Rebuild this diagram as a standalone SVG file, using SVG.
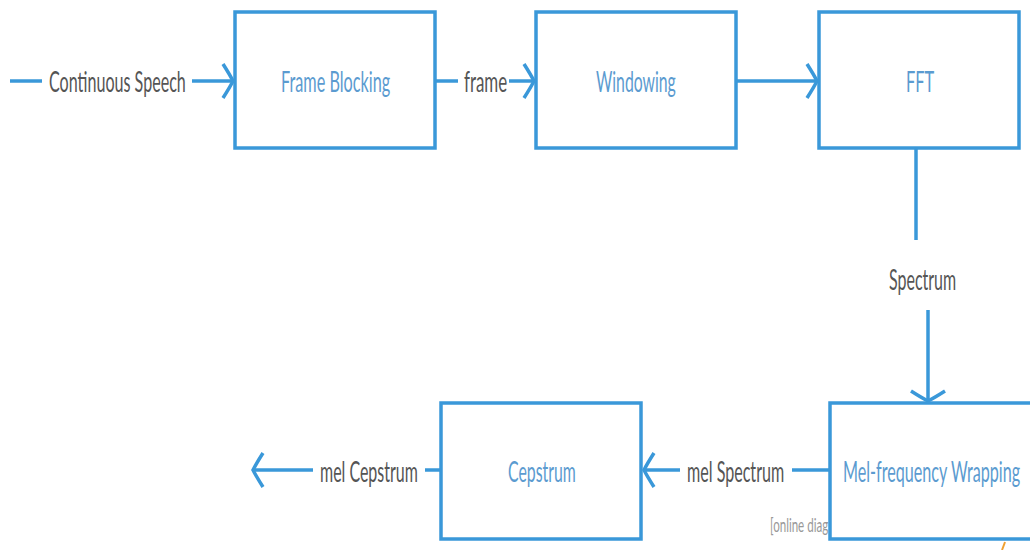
<svg xmlns="http://www.w3.org/2000/svg" width="1030" height="550" viewBox="0 0 1030 550">
<style>
.box{fill:#fff;stroke:#3a98d9;stroke-width:3.5}
.ln{fill:none;stroke:#3a98d9;stroke-width:3.5}
.nt{font-family:Lato,"Liberation Sans",sans-serif;font-size:29px;fill:#5b9bd0}
.lt{font-family:Lato,"Liberation Sans",sans-serif;font-size:29px;fill:#555}
</style>
<defs>
<marker id="ah" markerUnits="userSpaceOnUse" viewBox="-12 -20 14 40" refX="0" refY="0" markerWidth="14" markerHeight="40" orient="auto" overflow="visible">
<path d="M -10 -17 Q -3 -6 0 0 Q -3 6 -10 17" fill="none" stroke="#3a98d9" stroke-width="3.5"/>
</marker>
</defs>
<text transform="translate(770,532) scale(0.6,1)" font-family="Lato,'Liberation Sans',sans-serif" font-size="20" fill="#999" textLength="97" lengthAdjust="spacingAndGlyphs">[online diag</text>
<g id="connectors">
<line class="ln" x1="10" y1="81" x2="42" y2="81"/>
<text class="lt" transform="translate(49,92) scale(0.6,1)" textLength="228" lengthAdjust="spacingAndGlyphs">Continuous Speech</text>
<line class="ln" x1="192" y1="81" x2="233" y2="81" marker-end="url(#ah)"/>
<line class="ln" x1="436" y1="81" x2="458" y2="81"/>
<text class="lt" transform="translate(464,92) scale(0.6,1)" textLength="72" lengthAdjust="spacingAndGlyphs">frame</text>
<line class="ln" x1="509" y1="81" x2="534" y2="81" marker-end="url(#ah)"/>
<line class="ln" x1="737" y1="81" x2="817" y2="81" marker-end="url(#ah)"/>
<line class="ln" x1="916" y1="149" x2="916" y2="240"/>
<text class="lt" transform="translate(889,290) scale(0.6,1)" textLength="112" lengthAdjust="spacingAndGlyphs">Spectrum</text>
<line class="ln" x1="928" y1="310" x2="928" y2="401" marker-end="url(#ah)"/>
<line class="ln" x1="830" y1="470" x2="792" y2="470"/>
<text class="lt" transform="translate(687,482) scale(0.6,1)" textLength="162" lengthAdjust="spacingAndGlyphs">mel Spectrum</text>
<line class="ln" x1="680" y1="470" x2="644" y2="470" marker-end="url(#ah)"/>
<line class="ln" x1="441" y1="470" x2="425" y2="470"/>
<text class="lt" transform="translate(320,482) scale(0.6,1)" textLength="163" lengthAdjust="spacingAndGlyphs">mel Cepstrum</text>
<line class="ln" x1="313" y1="470" x2="253" y2="470" marker-end="url(#ah)"/>
</g>
<g id="frame-blocking">
<rect class="box" x="235" y="12" width="200" height="136"/>
<text class="nt" transform="translate(281,92) scale(0.6,1)" textLength="182" lengthAdjust="spacingAndGlyphs">Frame Blocking</text>
</g>
<g id="windowing">
<rect class="box" x="536" y="12" width="200" height="136"/>
<text class="nt" transform="translate(596,92) scale(0.6,1)" textLength="133" lengthAdjust="spacingAndGlyphs">Windowing</text>
</g>
<g id="fft">
<rect class="box" x="819" y="12" width="200" height="136"/>
<text class="nt" transform="translate(906,92) scale(0.6,1)" textLength="47" lengthAdjust="spacingAndGlyphs">FFT</text>
</g>
<g id="mel-frequency-wrapping">
<rect class="box" x="830" y="403" width="215" height="136"/>
<text class="nt" transform="translate(843,482) scale(0.55,1)" textLength="322" lengthAdjust="spacingAndGlyphs">Mel-frequency Wrapping</text>
</g>
<g id="cepstrum">
<rect class="box" x="441" y="403" width="200" height="136"/>
<text class="nt" transform="translate(508,482) scale(0.6,1)" textLength="113" lengthAdjust="spacingAndGlyphs">Cepstrum</text>
</g>
<line x1="1005" y1="542" x2="1002" y2="550" stroke="#f0a030" stroke-width="2"/>
</svg>
